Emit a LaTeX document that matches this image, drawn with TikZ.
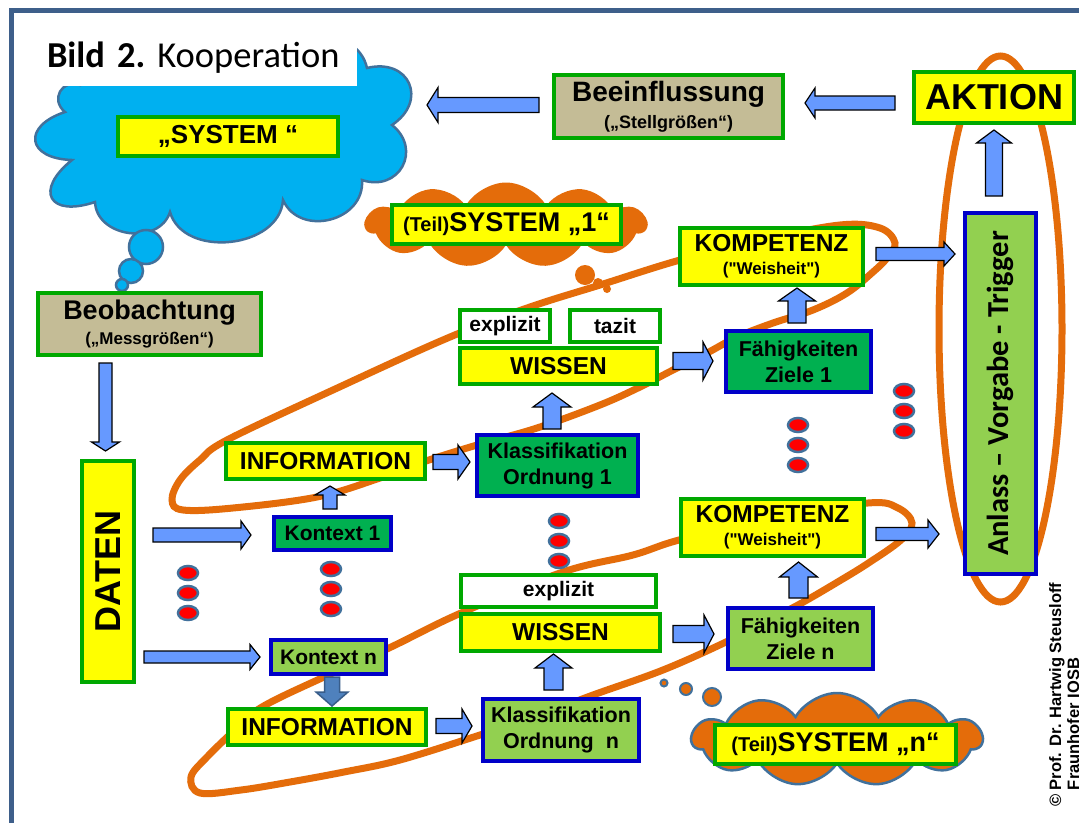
\documentclass[tikz,border=0pt]{standalone}
\usepackage{fontspec}
\setmainfont{Liberation Sans}[Ligatures=TeXOff]
\newfontfamily\calibrifont{Carlito}
\usetikzlibrary{calc,shapes.symbols}

\definecolor{boxyellow}{HTML}{FFFF00}
\definecolor{boxgreen}{HTML}{00A800}
\definecolor{boxtan}{HTML}{C4BC96}
\definecolor{darkfill}{HTML}{00B050}
\definecolor{lightfill}{HTML}{92D050}
\definecolor{boxblue}{HTML}{0000C8}
\definecolor{arrowfill}{HTML}{6699FF}
\definecolor{arrowdark}{HTML}{4F81BD}
\definecolor{arrowdarkline}{HTML}{385D8A}
\definecolor{loorange}{HTML}{E46C0A}
\definecolor{skyblue}{HTML}{00B0F0}
\definecolor{cloudline}{HTML}{41719C}
\definecolor{framecol}{HTML}{3E5F8A}

\newcommand{\fsize}[2]{\fontsize{#1}{#2}\selectfont}

% block arrow: [style]{start}{tip}{shaft half width}{head half width}{head length}
\newcommand{\blockarrow}[6][blockarrow]{%
  \coordinate (ba-s) at #2;
  \coordinate (ba-e) at #3;
  \coordinate (ba-h) at ($(ba-e)!#6pt!(ba-s)$);
  \draw[#1] ($(ba-s)!#4pt!90:(ba-e)$) -- ($(ba-h)!#4pt!90:(ba-e)$)
    -- ($(ba-h)!#5pt!90:(ba-e)$) -- (ba-e)
    -- ($(ba-h)!#5pt!-90:(ba-e)$) -- ($(ba-h)!#4pt!-90:(ba-e)$)
    -- ($(ba-s)!#4pt!-90:(ba-e)$) -- cycle;}

\tikzset{
  box/.style={draw=boxgreen, line width=4pt, fill=boxyellow, font=\bfseries,
    inner sep=0pt, align=center},
  greybox/.style={box, fill=boxtan},
  whitebox/.style={box, fill=white},
  darkbox/.style={box, draw=boxblue, fill=darkfill},
  lightbox/.style={box, draw=boxblue, fill=lightfill},
  blockarrow/.style={draw=black, line width=1.2pt, fill=arrowfill, line join=miter},
  darkarrow/.style={draw=arrowdarkline, line width=1.5pt, fill=arrowdark, line join=miter},
  loopline/.style={draw=loorange, line width=7pt},
  reddot/.style={fill=red, draw=cloudline, line width=2.5pt},
  puff/.style={bend left=80, looseness=#1},
  puff/.default=1.6,
}

\begin{document}
\begin{tikzpicture}[x=1pt, y=-1pt]
  \useasboundingbox (0,0) rectangle (1079,822);
  \clip (0,0) rectangle (1079,822);
  \fill[white] (0,0) rectangle (1079,822);
  \draw[framecol, line width=5pt, line join=miter] (1090,10) -- (11.5,10) -- (11.5,830);

  % orange loops
  \draw[loopline] plot[smooth cycle, tension=0.6] coordinates {
    (172,500) (180,480) (200,460) (227,440) (333,390) (450,337) (530,307)
    (600,285) (680,260) (760,240) (840,225) (880,228) (895,243) (887,258)
    (873,272) (847,293) (813,310) (773,323) (737,337) (707,353) (673,370)
    (640,387) (600,405) (537,428) (477,445) (423,462) (380,478) (317,497)
    (233,508) (183,510)};
  \draw[loopline] plot[smooth cycle, tension=0.6] coordinates {
    (191,777) (207,757) (235,730) (262,707) (324,677) (389,648) (461,613)
    (563,572) (633,555) (679,540) (770,518) (868,503) (898,508) (912,523)
    (901,540) (870,562) (841,580) (798,605) (760,624) (726,642) (663,670)
    (593,695) (540,715) (480,735) (400,760) (344,772) (290,782) (241,790)
    (200,793)};
  \draw[loopline] (1000.5,329) ellipse [x radius=61.5pt, y radius=273pt];

  % clouds
  \draw[fill=skyblue, draw=cloudline, line width=2.5pt] (80,85) to[puff=1] (180,72)
    to[puff=1] (280,72) to[puff=1.3] (367,68) to[puff=1.8] (392,125) to[puff] (362,180)
    to[puff=1.3] (283,200) to[puff=1.1] (170,212) to[puff=1.2] (95,202) to[puff=2.6] (72,160)
    to[puff=2.4] (65,112) to[puff] cycle;
  \foreach \cx/\cy/\r in {146/247/17, 131/271/12, 122/285/6}
    \draw[fill=skyblue, draw=cloudline, line width=2.5pt] (\cx,\cy) circle [radius=\r pt];
  \node[cloud, cloud puffs=11, cloud puff arc=120, aspect=3.3, fill=loorange,
    minimum width=281pt, minimum height=85pt] (teil1) at (506,225) {};
  \foreach \cx/\cy/\r in {585/275/10, 598/283/5, 607/289/4}
    \fill[loorange] (\cx,\cy) circle [radius=\r pt];
  \node[cloud, cloud puffs=11, cloud puff arc=120, aspect=3, fill=loorange,
    draw=cloudline, line width=2.5pt, minimum width=290pt, minimum height=93pt] (teiln) at (837,739.5) {};
  \foreach \cx/\cy/\r in {712/697/9, 686/689/6, 664/683/3.5}
    \draw[fill=loorange, draw=cloudline, line width=2pt] (\cx,\cy) circle [radius=\r pt];

  \node[fill=white, inner xsep=7pt, inner ysep=0pt, minimum height=56pt, text width=303pt,
    align=left, font=\calibrifont\fsize{36.5}{40}] (title) at (198.5,57.5)
    {\textbf{Bild 2.}\hspace{12pt}Kooperation};

  % boxes
  \node[box, minimum width=220pt, minimum height=39pt] (system) at (228,136.5) {\fsize{26}{30}„SYSTEM “};
  \node[greybox, minimum width=229pt, minimum height=63pt, font=\bfseries\fsize{28}{27}] (beein) at (668.5,106.5)
    {Beeinflussung\\{\fsize{18}{27}(„Stellgrößen“)}};
  \node[box, minimum width=160pt, minimum height=51pt] (aktion) at (994,97.5) {\fsize{36}{40}AKTION};
  \node[greybox, minimum width=223pt, minimum height=62pt, font=\bfseries\fsize{27}{25}] (beob) at (149.5,324)
    {Beobachtung\\{\fsize{17}{25}(„Messgrößen“)}};
  \node[box, minimum width=52pt, minimum height=221pt] (daten) at (108,571.5) {\fsize{36}{40}\rotatebox{90}{DATEN}};
  \node[box, minimum width=229pt, minimum height=39pt] (teil1box) at (506.5,224.5)
    {\fsize{20}{24}(Teil)\fsize{27}{30}SYSTEM „1“};
  \node[box, minimum width=241pt, minimum height=39pt] (teilnbox) at (835.5,744.5)
    {\fsize{20}{24}(Teil)\fsize{27}{30}SYSTEM „n“};

  \node[darkbox, minimum width=117pt, minimum height=33pt] (kontext1) at (332.5,533.5) {\fsize{21}{25}Kontext 1};
  \node[box, minimum width=199pt, minimum height=36pt] (info1) at (325.5,461) {\fsize{24.5}{28}INFORMATION};
  \node[darkbox, minimum width=161pt, minimum height=61pt, font=\bfseries\fsize{21.5}{26}] (klass1) at (557.5,465.5)
    {Klassifikation\\Ordnung 1};
  \node[box, minimum width=197pt, minimum height=36pt] (wissen1) at (558.5,366) {\fsize{24.5}{28}WISSEN};
  \node[whitebox, minimum width=90pt, minimum height=32pt] (expl1) at (505,326) {\fsize{21}{25}explizit};
  \node[whitebox, minimum width=90pt, minimum height=32pt] (tazit) at (615,326) {\fsize{21}{25}tazit};
  \node[darkbox, minimum width=145pt, minimum height=61pt, font=\bfseries\fsize{21.5}{26}] (faehig1) at (798.5,361.5)
    {Fähigkeiten\\Ziele 1};
  \node[box, minimum width=183pt, minimum height=57pt, font=\bfseries\fsize{24.5}{23}] (komp1) at (771.5,256.5)
    {KOMPETENZ\\{\fsize{17}{23}("Weisheit")}};

  \node[lightbox, minimum width=115pt, minimum height=34pt] (kontextn) at (328.5,657) {\fsize{21}{25}Kontext n};
  \node[box, minimum width=198pt, minimum height=36pt] (infon) at (327,727) {\fsize{24.5}{28}INFORMATION};
  \node[lightbox, minimum width=156pt, minimum height=62pt, font=\bfseries\fsize{21.5}{26}] (klassn) at (561,730)
    {Klassifikation\\Ordnung\ \ n};
  \node[box, minimum width=199pt, minimum height=37pt] (wissenn) at (560.5,632.5) {\fsize{24.5}{28}WISSEN};
  \node[whitebox, minimum width=195pt, minimum height=32pt] (expln) at (558.5,591) {\fsize{21}{25}explizit};
  \node[lightbox, minimum width=145pt, minimum height=61pt, font=\bfseries\fsize{21.5}{26}] (faehign) at (800.5,638.5)
    {Fähigkeiten\\Ziele n};
  \node[box, minimum width=183pt, minimum height=57pt, font=\bfseries\fsize{24.5}{23}] (kompn) at (772.5,527.5)
    {KOMPETENZ\\{\fsize{17}{23}("Weisheit")}};

  \node[lightbox, minimum width=71pt, minimum height=361pt] (trigger) at (1000.5,393.5)
    {\calibrifont\bfseries\fsize{30.5}{34}\rotatebox{90}{Anlass – Vorgabe - Trigger}};

  % arrows
  \coordinate (cloudtip) at (427,105);
  \blockarrow{($(beein.west)+(-13,-1.5)$)}{(cloudtip)}{7.5}{17.5}{11}
  \blockarrow{($(aktion.west)+(-17,5.5)$)}{($(beein.east)+(20,-3.5)$)}{7}{15}{10}
  \blockarrow{($(trigger.north -| aktion.south)+(0,-15)$)}{($(aktion.south)+(0,5)$)}{8.5}{17.5}{13}
  \blockarrow{($(komp1.east)+(11,-2.5)$)}{($(trigger.west |- komp1.east)+(-8,-2.5)$)}{6.5}{12}{11}
  \blockarrow{($(kompn.east)+(10,6.5)$)}{($(trigger.west |- kompn.east)+(-24,6.5)$)}{6.5}{14}{11}
  \blockarrow{($(beob.south -| daten.north)+(-2.5,6)$)}{($(daten.north)+(-2.5,-8)$)}{6.5}{14}{9}
  \blockarrow{($(daten.east |- kontext1.west)+(17,1.5)$)}{($(kontext1.west)+(-21,1.5)$)}{7}{14}{10}
  \blockarrow{($(daten.east |- kontextn.west)+(8,0)$)}{($(kontextn.west)+(-9,0)$)}{6}{12.5}{10}
  \blockarrow{($(kontext1.north)+(-2.5,-6)$)}{($(info1.south -| kontext1.north)+(-2.5,5)$)}{7}{15}{9}
  \blockarrow{($(info1.east)+(6,1)$)}{($(klass1.west |- info1.east)+(-5,1)$)}{7.5}{17}{12}
  \blockarrow{($(klass1.north)+(-5.5,-4)$)}{($(wissen1.south -| klass1.north)+(-5.5,7)$)}{9}{19}{14}
  \blockarrow{($(wissen1.east)+(14,-5)$)}{($(faehig1.west |- wissen1.east)+(-11,-5)$)}{8.5}{19}{10}
  \blockarrow{($(faehig1.north)+(-1.5,-6)$)}{($(komp1.south -| faehig1.north)+(-1.5,1)$)}{9}{18.5}{13}
  \blockarrow[darkarrow]{($(kontextn.south)+(3.5,1)$)}{($(infon.north -| kontextn.south)+(3.5,-1)$)}{7.5}{16}{14}
  \blockarrow{($(infon.east)+(8,-1)$)}{($(klassn.west |- infon.east)+(-9,-1)$)}{7.5}{17}{10}
  \blockarrow{($(klassn.north)+(-7.5,-7)$)}{($(wissenn.south -| klassn.north)+(-7.5,1)$)}{9.5}{18.5}{14}
  \blockarrow{($(wissenn.east)+(11,1.5)$)}{($(faehign.west |- wissenn.east)+(-12,1.5)$)}{8.5}{19}{10}
  \blockarrow{($(faehign.north)+(-2,-8)$)}{($(kompn.south -| faehign.north)+(-2,4)$)}{9.5}{19}{15}

  % dots
  \foreach \dx/\dy in {188/573, 331/569, 559/521, 798/425, 904/391}
    \foreach \k in {0,1,2}
      \draw[reddot] (\dx,{\dy+20*\k}) ellipse [x radius=10pt, y radius=7pt];

  \node[rotate=90, anchor=north west, align=left, inner sep=0pt,
    font=\bfseries\fsize{16.5}{18}] (copyright) at (1049,807)
    {© Prof. Dr. Hartwig Steusloff\\\phantom{© }Fraunhofer IOSB};
\end{tikzpicture}
\end{document}
